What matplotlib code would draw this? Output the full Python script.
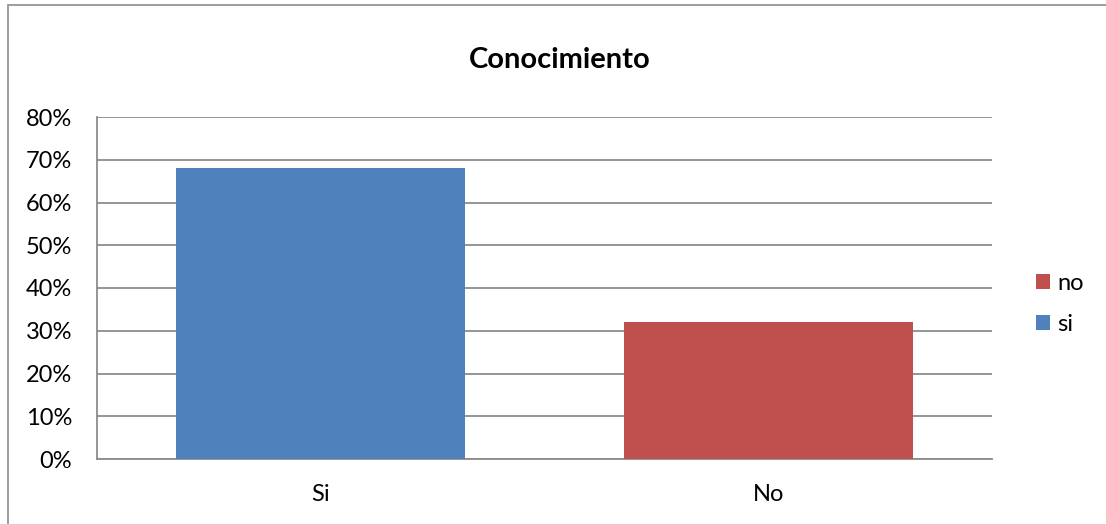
import matplotlib
matplotlib.use("Agg")
import matplotlib.pyplot as plt
from matplotlib.patches import Rectangle, Patch

categories = ["Si", "No"]
values = [0.68, 0.32]
colors = ["#4F81BD", "#C0504D"]
series_names = ["si", "no"]
yticks = [0, 0.1, 0.2, 0.3, 0.4, 0.5, 0.6, 0.7, 0.8]
ytick_labels = ["0%", "10%", "20%", "30%", "40%", "50%", "60%", "70%", "80%"]
title = "Conocimiento"

plt.rcParams['font.family'] = ['Lato', 'DejaVu Sans']

fig = plt.figure(figsize=(11.06, 5.24), dpi=100)
fig.patches.append(Rectangle((8/1106, -0.2), 2, 1.2 - 5/524, transform=fig.transFigure,
                             fill=False, edgecolor="#8C8C8C", linewidth=1.2))

ax = fig.add_axes([97/1106, (524-459)/524, 895/1106, 342/524])
x = list(range(len(categories)))
ax.bar(x, values, width=0.646, color=colors, zorder=3)
ax.set_xlim(-0.5, 1.5)
ax.set_ylim(0, 0.8)
ax.set_yticks(yticks)
ax.set_yticklabels(ytick_labels, fontsize=17)
ax.set_xticks(x)
ax.set_xticklabels(categories, fontsize=17)
ax.tick_params(axis='y', length=0, pad=18)
ax.tick_params(axis='x', length=0, pad=18)
ax.grid(axis='y', color="#8C8C8C", linewidth=1.3, zorder=0)
for s in ['top', 'right']:
    ax.spines[s].set_visible(False)
for s in ['left', 'bottom']:
    ax.spines[s].set_color("#8C8C8C")
    ax.spines[s].set_linewidth(1.3)

fig.text(560/1106, 1 - 60/524, title, ha='center', va='center', fontsize=21, fontweight='bold')

handles = [Patch(facecolor=colors[1], label=series_names[1]),
           Patch(facecolor=colors[0], label=series_names[0])]
fig.legend(handles=handles, loc='center left', bbox_to_anchor=(1015/1106, 1 - 304/524),
           frameon=False, fontsize=17, handlelength=0.6, handleheight=0.6,
           handletextpad=0.3, labelspacing=0.85)

fig.savefig("out.png", dpi=100)
